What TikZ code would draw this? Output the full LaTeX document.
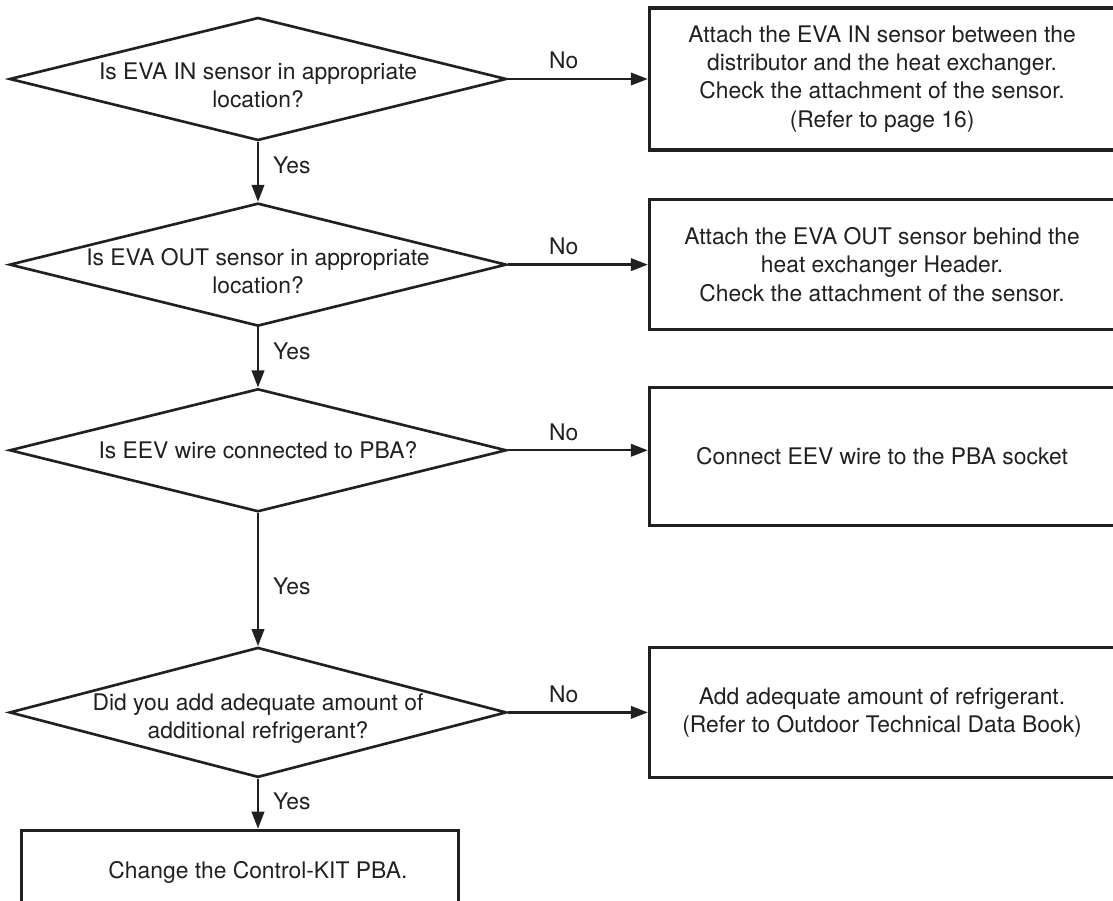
\documentclass[tikz,border=0pt]{standalone}
\usepackage{fontspec}
\setmainfont{TeX Gyre Heros}
\usetikzlibrary{positioning,arrows.meta,shapes.geometric}
\definecolor{ink}{HTML}{231F20}
\newcommand{\qpad}{\rule{0pt}{17pt}}

\begin{document}
\begin{tikzpicture}[
  font=\fontsize{13}{16}\selectfont,
  >={Triangle[length=3.4mm,width=2.5mm]},
  qdia/.style ={diamond,draw=ink,line width=1.5pt,text=ink,aspect=4,
                inner xsep=-14pt,inner ysep=-5pt,align=center,
                minimum width=9.94cm,minimum height=2.46cm},
  abox/.style ={draw=ink,line width=2pt,text=ink,align=center,
                inner sep=4pt,minimum width=9.3cm},
  flow/.style ={->,line width=1.3pt,draw=ink},
  ylab/.style ={text=ink,inner sep=2pt},
]
\clip (0,0) rectangle (22.26,-18.02);

% ===================== Decisions (left column) ==========================
\node[qdia] (Q1) at (5.16,-1.58)
  {\qpad Is EVA IN sensor in appropriate\\location?};
\node[qdia,below=1.2cm of Q1] (Q2)
  {\qpad Is EVA OUT sensor in appropriate\\location?};
\node[qdia,below=1.2cm of Q2] (Q3)
  {Is EEV wire connected to PBA?};
\node[qdia,minimum height=2.6cm,below=2.66cm of Q3] (Q4)
  {\qpad Did you add adequate amount of\\additional refrigerant?};

% Final action, cut by the bottom edge of the page.
\node[abox,minimum width=8.74cm,minimum height=1.68cm,
      below=1.0cm of Q4,xshift=-0.36cm] (Fin)
  {\hspace*{0.72cm}Change the Control-KIT PBA.};

% ===================== Remedies (right column) ==========================
\node[abox,minimum height=2.84cm,right=2.8cm of Q1] (A1)
  {Attach the EVA IN sensor between the\\
   distributor and the heat exchanger.\\
   Check the attachment of the sensor.\\
   (Refer to page 16)};
\node[abox,minimum height=2.6cm,right=2.8cm of Q2] (A2)
  {Attach the EVA OUT sensor behind the\\
   heat exchanger Header.\\
   Check the attachment of the sensor.};
\node[abox,minimum height=2.76cm,right=2.8cm of Q3,yshift=-0.12cm] (A3)
  {Connect EEV wire to the PBA socket};
\node[abox,minimum height=2.6cm,right=2.8cm of Q4] (A4)
  {Add adequate amount of refrigerant.\\
   (Refer to Outdoor Technical Data Book)};

% ----- No branches -------------------------------------------------------
\draw[flow] (Q1.east) -- (Q1.east -| A1.west) node[ylab,pos=0.4,above=3pt]{No};
\draw[flow] (Q2.east) -- (Q2.east -| A2.west) node[ylab,pos=0.4,above=3pt]{No};
\draw[flow] (Q3.east) -- (Q3.east -| A3.west) node[ylab,pos=0.4,above=3pt]{No};
\draw[flow] (Q4.east) -- (Q4.east -| A4.west) node[ylab,pos=0.4,above=3pt]{No};

% ----- Yes branches ------------------------------------------------------
\draw[flow] (Q1) -- node[ylab,right=6pt,pos=0.4]{Yes} (Q2);
\draw[flow] (Q2) -- node[ylab,right=6pt,pos=0.4]{Yes} (Q3);
\draw[flow] (Q3) -- node[ylab,right=6pt,pos=0.55]{Yes} (Q4);
\draw[flow] (Q4.south) -- (Q4.south |- Fin.north)
  node[ylab,right=6pt,pos=0.45]{Yes};

\end{tikzpicture}
\end{document}
